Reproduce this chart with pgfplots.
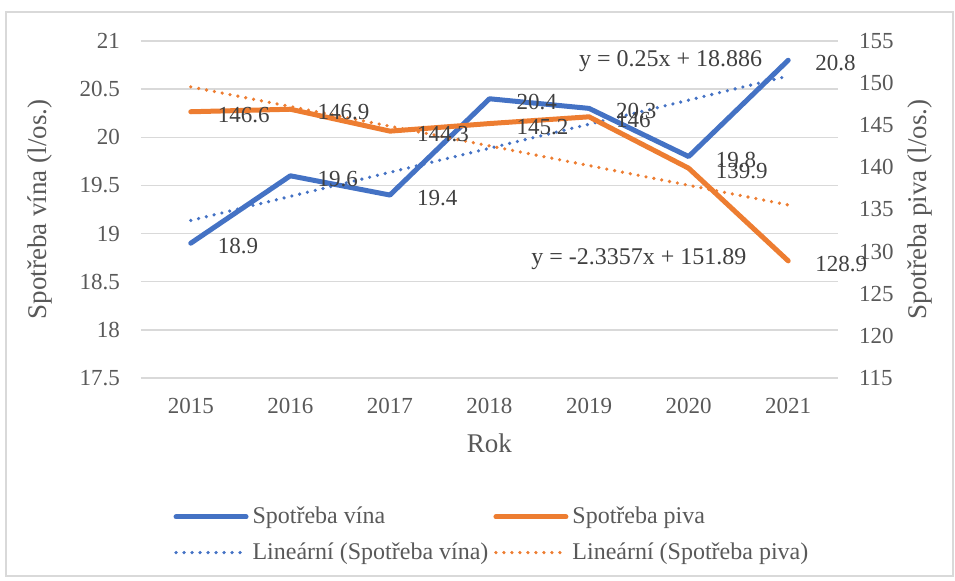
\documentclass[border=0pt]{standalone}
\usepackage{pgfplots}
\pgfplotsset{compat=1.18}
\usepackage{fontspec}
\setmainfont{Liberation Serif}
\definecolor{vino}{HTML}{4472C4}
\definecolor{pivo}{HTML}{ED7D31}
\definecolor{txt}{HTML}{595959}
\definecolor{lbl}{HTML}{404040}
\definecolor{grd}{HTML}{D9D9D9}

\pgfplotsset{
  spolecne/.style={
    scale only axis, width=348.5pt, height=168.5pt,
    at={(70.5pt,101.5pt)}, anchor=south west,
    xmin=-0.5, xmax=6.5, clip=false,
    axis line style={draw=none}, major tick length=0pt,
    tick label style={font=\fontsize{11.5}{13}\selectfont, color=txt},
    /pgf/number format/assume math mode=true,
    label style={font=\fontsize{13.5}{16}\selectfont, color=txt},
  },
  popisky/.style={
    nodes near coords, point meta=explicit symbolic,
    every node near coord/.append style={anchor=west, xshift=9pt, yshift=-1.5pt,
      font=\fontsize{11.5}{13}\selectfont, color=lbl},
  },
  rada/.style={line width=2.5pt, line cap=round, line join=round, mark=none},
  trend/.style={line width=1.8pt, line cap=round, dash pattern=on 0pt off 4pt, mark=none},
}

\begin{document}
\begin{tikzpicture}
\path[use as bounding box] (0,0) rectangle (477.5pt,290.5pt);
\draw[grd, line width=0.75pt] (3pt,2.5pt) rectangle (476.5pt,284.5pt);

% levá osa: víno
\begin{axis}[spolecne,
    ymin=17.5, ymax=21, ytick={17.5,18,...,21},
    xtick={0,...,6}, xticklabels={2015,2016,2017,2018,2019,2020,2021},
    ymajorgrids, grid style={grd, line width=0.75pt},
    yticklabel style={xshift=-7pt},
    xticklabel style={yshift=-6.7pt},
    xlabel={Rok}, ylabel={Spotřeba vína (l/os.)},
    xlabel style={at={(axis description cs:0.5,-0.193)}, anchor=center},
    ylabel style={at={(axis description cs:-0.145,0.5)}, anchor=center},
]
\addplot[vino, rada, popisky] coordinates {
  (0,18.9) [18.9] (1,19.6) [19.6] (2,19.4) [19.4] (3,20.4) [20.4]
  (4,20.3) [20.3] (5,19.8) [19.8] (6,20.8) [20.8]
};
\addplot[vino, trend] coordinates {
  (0,19.136) (1,19.386) (2,19.636) (3,19.886) (4,20.136) (5,20.386) (6,20.636)
};
\node[font=\fontsize{12}{14}\selectfont, color=lbl] at (axis cs:4.82,20.79) {y = 0.25x + 18.886};
\node[font=\fontsize{12}{14}\selectfont, color=lbl] at (axis cs:4.50,18.73) {y = -2.3357x + 151.89};
\end{axis}

% pravá osa: pivo
\begin{axis}[spolecne,
    ymin=115, ymax=155, ytick={115,120,...,155},
    xtick=\empty, yticklabel pos=right,
    yticklabel style={xshift=7pt},
    ylabel={Spotřeba piva (l/os.)},
    ylabel style={at={(axis description cs:1.118,0.5)}, anchor=center},
    legend columns=2, legend cell align=left,
    legend image code/.code={\draw[#1] (0pt,0pt) -- (35pt,0pt);},
    legend style={draw=none, fill=none, at={(0.0375,-0.358)}, anchor=north west,
      font=\fontsize{12}{14}\selectfont, text=txt, row sep=4pt,
      /tikz/every even column/.append style={column sep=0.5pt}},
]
\addlegendimage{vino, rada}
\addlegendentry{Spotřeba vína}
\addplot[pivo, rada, popisky] coordinates {
  (0,146.6) [146.6] (1,146.9) [146.9] (2,144.3) [144.3] (3,145.2) [145.2]
  (4,146) [146] (5,139.9) [139.9] (6,128.9) [128.9]
};
\addlegendentry{Spotřeba piva}
\addlegendimage{vino, trend}
\addlegendentry{Lineární (Spotřeba vína)}
\addplot[pivo, trend] coordinates {
  (0,149.554) (1,147.219) (2,144.883) (3,142.548) (4,140.212) (5,137.876) (6,135.541)
};
\addlegendentry{Lineární (Spotřeba piva)}
\end{axis}
\end{tikzpicture}
\end{document}
